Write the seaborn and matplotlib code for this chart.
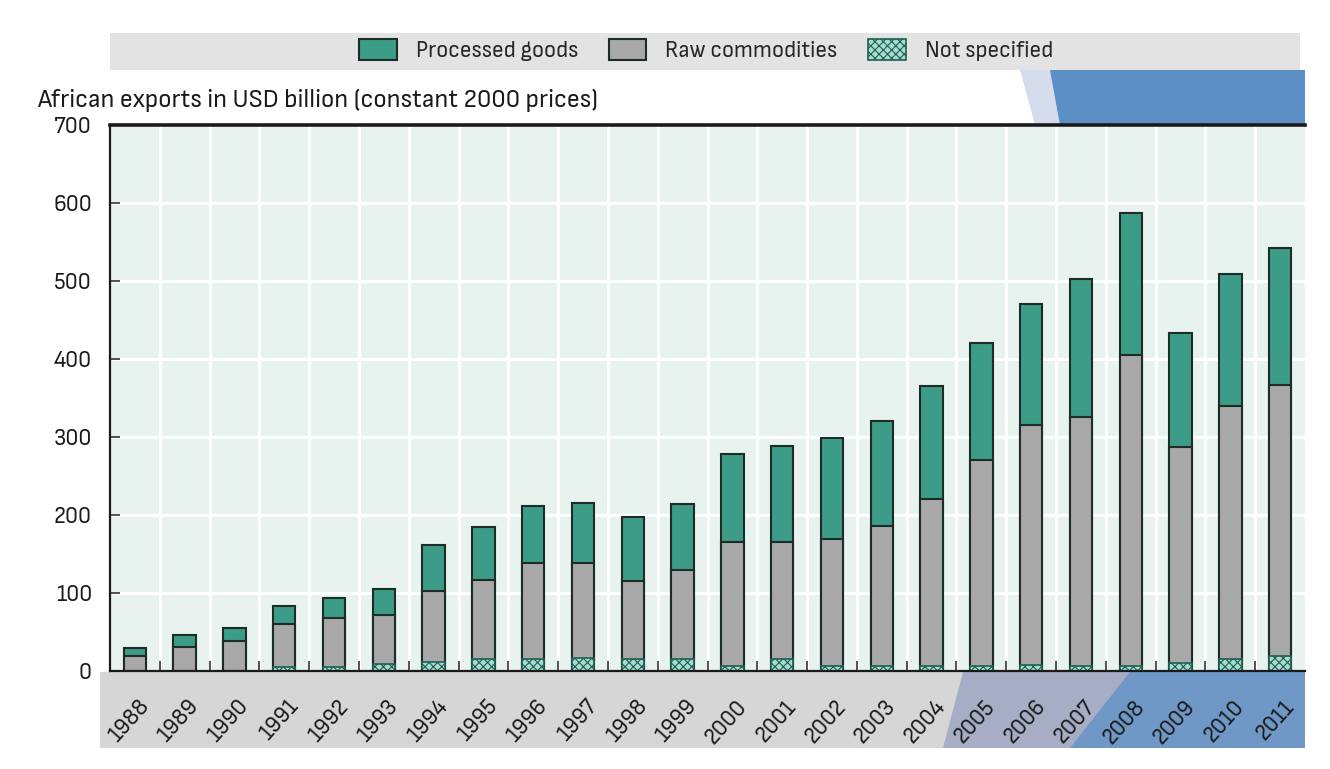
import matplotlib
matplotlib.use('Agg')
import matplotlib.pyplot as plt
import matplotlib.transforms as mtransforms
import seaborn as sns
import numpy as np
import pandas as pd
from matplotlib.patches import Patch, Polygon
from matplotlib.ticker import FixedLocator
from matplotlib import font_manager

# ---------------- data ----------------
years = [str(y) for y in range(1988, 2012)]
not_specified = [0, 0, 0, 5, 5, 9, 12, 16, 16, 17, 15, 16, 6, 15, 7, 6, 7, 6, 8, 7, 7, 10, 16, 19]
raw_commodities = [19, 31, 38, 55, 63, 63, 90, 101, 123, 122, 101, 113, 159, 150, 162, 180, 214, 264, 308, 319, 398, 277, 324, 348]
processed_goods = [11, 15, 17, 23, 26, 33, 59, 67, 73, 76, 82, 85, 113, 123, 130, 134, 144, 151, 154, 176, 182, 146, 169, 175]
series_labels = ["Processed goods", "Raw commodities", "Not specified"]
y_label = "African exports in USD billion (constant 2000 prices)"
y_ticks = [0, 100, 200, 300, 400, 500, 600, 700]

# ---------------- style ----------------
sns.set_theme(style="white")

# look for a narrow / condensed sans font
narrow_fp = None
for f in font_manager.fontManager.ttflist:
    nm = (f.fname or "").lower()
    if ("narrow" in nm or "condensed" in nm) and "sans" in nm and "bold" not in nm \
            and "oblique" not in nm and "italic" not in nm and "mono" not in nm:
        narrow_fp = f
        if "liberation" in nm or "arial" in nm:
            break

if narrow_fp is not None:
    plt.rcParams['font.family'] = [narrow_fp.name, "DejaVu Sans"]
    plt.rcParams['font.stretch'] = narrow_fp.stretch
    fs = 17
else:
    names = {f.name for f in font_manager.fontManager.ttflist}
    plt.rcParams['font.family'] = [f for f in ["Liberation Sans", "DejaVu Sans"] if f in names]
    fs = 15

teal = "#3c9c87"
gray = "#a8a8a8"
ns_face = "#a6dccf"
edge = "#1e2b27"
plot_bg = "#e8f2ef"

df = pd.DataFrame({
    "year": years,
    "ns": not_specified,
    "raw": raw_commodities,
    "proc": processed_goods,
})
df["raw_top"] = df["ns"] + df["raw"]
df["total"] = df["raw_top"] + df["proc"]

fig = plt.figure(figsize=(13.3, 7.69), dpi=100)
fig.patch.set_facecolor("white")

W, H = 1330, 769
def fx(px): return px / W
def fy(py): return 1 - py / H

def add_poly(pts, color):
    fig.patches.append(Polygon([(fx(a), fy(b)) for a, b in pts], closed=True,
                               transform=fig.transFigure, facecolor=color,
                               edgecolor="none", zorder=-5))

# background bands
add_poly([(110, 33), (1300, 33), (1300, 70), (110, 70)], "#e3e3e3")
add_poly([(100, 672), (1305, 672), (1305, 748), (100, 748)], "#d6d6d6")
# slide decoration shapes
add_poly([(1020, 70), (1305, 70), (1305, 125), (1035, 125)], "#d5dcec")
add_poly([(1050, 70), (1305, 70), (1305, 125), (1060, 125)], "#5b8fc6")
add_poly([(963, 672), (1305, 672), (1305, 748), (943, 748)], "#a6adc4")
add_poly([(1130, 672), (1305, 672), (1305, 748), (1070, 748)], "#6f98c6")

ax = fig.add_axes([fx(110), fy(671), fx(1305) - fx(110), fy(125) - fy(671)])
ax.set_facecolor(plot_bg)
ax.set_axisbelow(True)

bw = 0.45
sns.barplot(data=df, x="year", y="total", color=teal, edgecolor=edge, linewidth=1.5,
            width=bw, saturation=1, errorbar=None, ax=ax)
sns.barplot(data=df, x="year", y="raw_top", color=gray, edgecolor=edge, linewidth=1.5,
            width=bw, saturation=1, errorbar=None, ax=ax)
plt.rcParams['hatch.linewidth'] = 0.8
sns.barplot(data=df, x="year", y="ns", color=ns_face, edgecolor="#1f5f50", linewidth=1.2,
            width=bw, saturation=1, errorbar=None, hatch="xxxx", ax=ax)

n = len(years)
ax.set_xlim(-0.5, n - 0.5)
ax.set_ylim(0, 700)
ax.yaxis.set_major_locator(FixedLocator(y_ticks))
ax.set_yticklabels([str(v) for v in y_ticks])
ax.xaxis.set_minor_locator(FixedLocator([i + 0.5 for i in range(n - 1)]))

ax.grid(which="major", axis="y", color="white", linewidth=2.2)
ax.grid(which="minor", axis="x", color="white", linewidth=2.2)
ax.grid(which="major", axis="x", visible=False)

ax.tick_params(axis="x", which="major", length=0, pad=18, labelsize=fs, labelcolor="#1a1a1a")
ax.tick_params(axis="x", which="minor", direction="in", length=7, width=1.2, color="#333333", bottom=True)
ax.tick_params(axis="y", which="major", direction="in", length=7, width=1.2, color="#333333",
               left=True, labelsize=fs, labelcolor="#1a1a1a", pad=13)
shift = mtransforms.ScaledTranslation(3 / 100.0, 0, fig.dpi_scale_trans)
for lab in ax.get_xticklabels():
    lab.set_rotation(48)
    lab.set_ha("right")
    lab.set_rotation_mode("anchor")
    lab.set_transform(lab.get_transform() + shift)
ax.set_xlabel("")
ax.set_ylabel("")

for s in ["left", "bottom"]:
    ax.spines[s].set_visible(True)
    ax.spines[s].set_color("#1a1a1a")
    ax.spines[s].set_linewidth(1.6)
ax.spines["top"].set_visible(True)
ax.spines["top"].set_color("#1a1a1a")
ax.spines["top"].set_linewidth(2.6)
ax.spines["right"].set_visible(False)

ylab = fig.text(fx(37), fy(100), y_label, fontsize=fs, color="#1a1a1a", ha="left", va="center")
fig.canvas.draw()
wpx = ylab.get_window_extent().width
ylab.set_fontsize(fs * 560.0 / wpx if wpx > 0 else fs)

handles = [
    Patch(facecolor=teal, edgecolor=edge, linewidth=1.5),
    Patch(facecolor=gray, edgecolor=edge, linewidth=1.5),
    Patch(facecolor=ns_face, edgecolor="#1f5f50", linewidth=1.2, hatch="xxxx"),
]
fig.legend(handles, series_labels, loc="center", bbox_to_anchor=(fx(706), fy(50)), ncol=3,
           frameon=False, fontsize=fs, handlelength=1.6, handleheight=1.0, columnspacing=1.3,
           handletextpad=0.8)

fig.savefig("out.png", dpi=100, facecolor="white")
